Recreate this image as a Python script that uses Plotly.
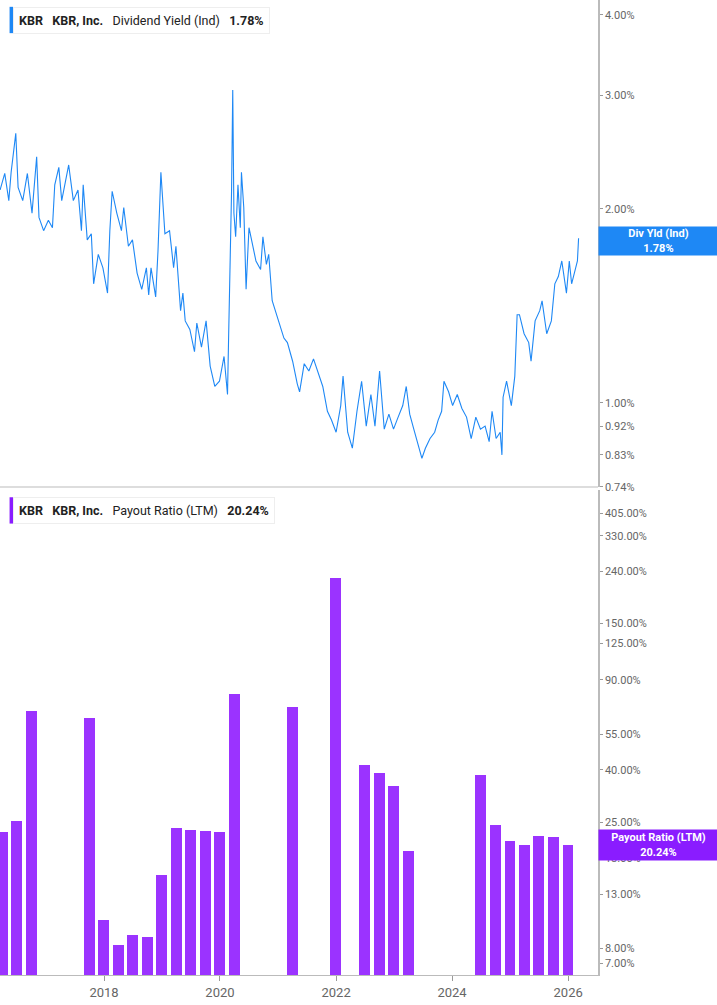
import datetime as dt
import plotly.graph_objects as go

# Dividend yield (Ind), % — decimal year / value
yld_years = [2016.21, 2016.29, 2016.36, 2016.40, 2016.48, 2016.52, 2016.60, 2016.68, 2016.76, 2016.84,
             2016.88, 2016.96, 2017.04, 2017.11, 2017.15, 2017.22, 2017.27, 2017.39, 2017.47, 2017.55,
             2017.61, 2017.64, 2017.71, 2017.78, 2017.82, 2017.90, 2017.98, 2018.06, 2018.10, 2018.14,
             2018.22, 2018.30, 2018.34, 2018.42, 2018.49, 2018.57, 2018.65, 2018.73, 2018.77, 2018.81,
             2018.89, 2018.93, 2018.98, 2019.05, 2019.13, 2019.20, 2019.24, 2019.32, 2019.36, 2019.40,
             2019.48, 2019.56, 2019.60, 2019.68, 2019.76, 2019.83, 2019.91, 2019.99, 2020.07, 2020.13,
             2020.15, 2020.17, 2020.20, 2020.22, 2020.24, 2020.27, 2020.31, 2020.35, 2020.37, 2020.41,
             2020.45, 2020.50, 2020.54, 2020.62, 2020.70, 2020.74, 2020.80, 2020.84, 2020.90, 2020.98,
             2021.06, 2021.10, 2021.16, 2021.25, 2021.33, 2021.37, 2021.45, 2021.53, 2021.61, 2021.69,
             2021.77, 2021.85, 2021.92, 2022.00, 2022.08, 2022.12, 2022.20, 2022.28, 2022.36, 2022.44,
             2022.52, 2022.60, 2022.67, 2022.75, 2022.83, 2022.91, 2022.99, 2023.07, 2023.15, 2023.21,
             2023.27, 2023.34, 2023.42, 2023.48, 2023.54, 2023.62, 2023.70, 2023.76, 2023.82, 2023.86,
             2023.94, 2024.01, 2024.09, 2024.17, 2024.25, 2024.33, 2024.41, 2024.49, 2024.57, 2024.64,
             2024.69, 2024.76, 2024.83, 2024.86, 2024.88, 2024.94, 2025.02, 2025.08, 2025.12, 2025.16,
             2025.24, 2025.32, 2025.36, 2025.43, 2025.51, 2025.55, 2025.63, 2025.71, 2025.77, 2025.83,
             2025.89, 2025.97, 2026.02, 2026.06, 2026.13, 2026.16, 2026.18]
yld_values = [2.14, 2.27, 2.06, 2.28, 2.62, 2.16, 2.06, 2.27, 1.97, 2.41,
              1.94, 1.85, 1.92, 1.87, 2.18, 2.32, 2.06, 2.34, 2.06, 2.14,
              1.85, 2.18, 1.79, 1.83, 1.53, 1.70, 1.62, 1.48, 1.85, 2.13,
              1.97, 1.85, 2.01, 1.75, 1.79, 1.59, 1.50, 1.62, 1.47, 1.62,
              1.46, 1.72, 2.28, 1.83, 1.85, 1.62, 1.75, 1.39, 1.48, 1.34,
              1.30, 1.20, 1.33, 1.22, 1.34, 1.14, 1.06, 1.08, 1.18, 1.03,
              1.28, 1.53, 2.14, 3.06, 1.97, 1.81, 2.18, 1.87, 2.28, 2.01,
              1.50, 1.87, 1.79, 1.66, 1.61, 1.81, 1.64, 1.70, 1.44, 1.37,
              1.30, 1.26, 1.24, 1.16, 1.07, 1.04, 1.15, 1.12, 1.17, 1.11,
              1.06, 0.97, 0.94, 0.90, 0.99, 1.10, 0.90, 0.85, 0.97, 1.08,
              0.92, 1.03, 0.92, 1.12, 0.91, 0.96, 0.91, 0.95, 0.99, 1.06,
              0.96, 0.91, 0.86, 0.82, 0.85, 0.88, 0.90, 0.94, 0.97, 1.08,
              1.04, 0.99, 1.03, 0.98, 0.95, 0.88, 0.95, 0.91, 0.92, 0.87,
              0.97, 0.88, 0.90, 0.83, 1.02, 1.08, 0.99, 1.10, 1.37, 1.37,
              1.28, 1.24, 1.16, 1.34, 1.39, 1.44, 1.28, 1.34, 1.53, 1.57,
              1.66, 1.48, 1.66, 1.53, 1.62, 1.66, 1.80]

# Payout ratio (LTM), % — quarter ends
payout_dates = ["2016-03-31", "2016-06-30", "2016-09-30", "2017-09-30", "2017-12-31", "2018-03-31",
                "2018-06-30", "2018-09-30", "2018-12-31", "2019-03-31", "2019-06-30", "2019-09-30",
                "2019-12-31", "2020-03-31", "2021-03-31", "2021-12-31", "2022-06-30", "2022-09-30",
                "2022-12-31", "2023-03-31", "2024-06-30", "2024-09-30", "2024-12-31", "2025-03-31",
                "2025-06-30", "2025-09-30", "2025-12-31"]
payout_values = [22.8, 25.1, 67.5, 63.5, 10.3, 8.2, 9.0, 8.8, 15.5, 23.7, 23.1, 22.9, 22.7, 79.0,
                 70.0, 225.0, 41.8, 38.6, 34.6, 19.2, 37.9, 24.3, 20.9, 20.3, 22.0, 21.8, 20.24]

yld_ticks = [0.74, 0.83, 0.92, 1.0, 2.0, 3.0, 4.0]
payout_ticks = [7, 8, 13, 18, 25, 40, 55, 90, 125, 150, 240, 330, 405]


def to_date(y):
    year = int(y)
    start = dt.datetime(year, 1, 1)
    return start + dt.timedelta(days=(y - year) * 365.25)


BLUE = "#1e88f5"
PURPLE = "#9b33ff"
FONT = "Roboto, sans-serif"

fig = go.Figure()
fig.add_trace(go.Scatter(x=[to_date(v) for v in yld_years], y=yld_values, mode="lines",
                         line=dict(color=BLUE, width=1.1), yaxis="y2", xaxis="x", showlegend=False))
fig.add_trace(go.Bar(x=payout_dates, y=payout_values, marker=dict(color=PURPLE, line=dict(width=0)),
                     width=69 * 86400000, yaxis="y", xaxis="x", showlegend=False))

tickfont = dict(family=FONT, size=11, color="#666")
fig.update_layout(
    width=717, height=1005,
    margin=dict(l=0, r=119, t=0, b=30),
    paper_bgcolor="white", plot_bgcolor="white",
    font=dict(family=FONT),
    bargap=0,
    xaxis=dict(range=["2016-03-17", "2026-07-08"], showgrid=False, zeroline=False,
               tickvals=["2018-01-01", "2020-01-01", "2022-01-01", "2024-01-01", "2026-01-01"],
               ticktext=["2018", "2020", "2022", "2024", "2026"],
               ticks="outside", ticklen=5, tickcolor="#999",
               tickfont=dict(family=FONT, size=13, color="#666"),
               showline=True, linecolor="#bbb", linewidth=1),
    yaxis=dict(domain=[0, 0.497], type="log", side="right", range=[0.799, 2.696],
               tickvals=payout_ticks, ticktext=[f"{v:.2f}%" for v in payout_ticks],
               showgrid=False, zeroline=False, ticks="outside", ticklen=3, tickcolor="#999",
               tickfont=tickfont, showline=True, linecolor="#bbb", linewidth=1.5),
    yaxis2=dict(domain=[0.5005, 1], type="log", side="right", anchor="x",
                range=[-0.1308, 0.6253],
                tickvals=yld_ticks, ticktext=[f"{v:.2f}%" for v in yld_ticks],
                showgrid=False, zeroline=False, ticks="outside", ticklen=3, tickcolor="#999",
                tickfont=tickfont, showline=True, linecolor="#bbb", linewidth=1.5),
)

# separator between panels
fig.add_shape(type="line", xref="paper", yref="paper", x0=0, x1=1, y0=0.5005, y1=0.5005,
              line=dict(color="#ddd", width=2))

# legend boxes
for y, color, text in [(1.0, BLUE, "<b>KBR</b>   <b>KBR, Inc.</b>   Dividend Yield (Ind)   <b>1.78%</b>"),
                       (0.497, "#8a1cff", "<b>KBR</b>   <b>KBR, Inc.</b>   Payout Ratio (LTM)   <b>20.24%</b>")]:
    fig.add_annotation(xref="paper", yref="paper", x=0.022, y=y - 0.007, xanchor="left", yanchor="top",
                       text=text, showarrow=False, align="left",
                       font=dict(family=FONT, size=12.5, color="#222"),
                       bgcolor="white", bordercolor="#eee", borderwidth=1, borderpad=5)
    fig.add_shape(type="rect", xref="paper", yref="paper", x0=0.016, x1=0.022,
                  y0=y - 0.034, y1=y - 0.007, fillcolor=color, line=dict(width=0), layer="above")

# right side value labels
fig.add_annotation(xref="paper", yref="y2", x=1.0, y=0.2504, xanchor="left", yanchor="middle",
                   text="<b>Div Yld (Ind)<br>1.78%</b>", showarrow=False,
                   font=dict(family=FONT, size=11, color="white"),
                   bgcolor=BLUE, width=119, height=28, borderpad=0)
fig.add_annotation(xref="paper", yref="y", x=1.0, y=1.306, xanchor="left", yanchor="middle",
                   text="<b>Payout Ratio (LTM)<br>20.24%</b>", showarrow=False,
                   font=dict(family=FONT, size=11, color="white"),
                   bgcolor="#8a1cff", width=119, height=30, borderpad=0)

fig.write_html("out.html", config={"displayModeBar": False},
               post_script="document.body.style.margin='0';")
